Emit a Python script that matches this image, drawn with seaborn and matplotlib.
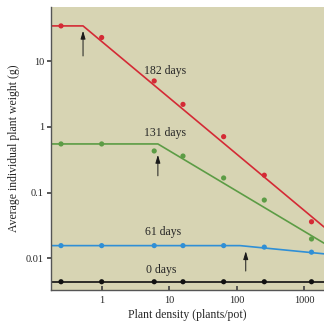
import numpy as np
import pandas as pd
import matplotlib
matplotlib.use("Agg")
import matplotlib.pyplot as plt
import seaborn as sns

# plant densities (plants/pot)
density = [0.25, 1, 6, 16, 64, 256, 1280]

# measured mean plant weight (g)
w_182 = [34.4, 22.9, 5.0, 2.2, 0.71, 0.184, 0.036]
w_131 = [0.55, 0.55, 0.43, 0.36, 0.167, 0.077, 0.0197]
w_61 = [0.0156, 0.0156, 0.0156, 0.0156, 0.0156, 0.0148, 0.0124]
w_0 = [0.0044, 0.0044, 0.0044, 0.0044, 0.0044, 0.0044, 0.0044]

# fitted lines (break points)
line_182_x = [0.177, 0.53, 1960]
line_182_y = [34.4, 34.4, 0.030]
line_131_x = [0.177, 6.8, 1960]
line_131_y = [0.55, 0.55, 0.017]
line_61_x = [0.177, 112, 1960]
line_61_y = [0.0156, 0.0156, 0.0117]
line_0_x = [0.177, 1960]
line_0_y = [0.0044, 0.0044]

labels = ["182 days", "131 days", "61 days", "0 days"]
colors = {"182 days": "#d42a35", "131 days": "#5c9c45",
          "61 days": "#2f8fd6", "0 days": "#111111"}

pts = pd.concat([
    pd.DataFrame({"density": density, "weight": w, "age": lab})
    for w, lab in zip([w_182, w_131, w_61, w_0], labels)
])
lines = pd.concat([
    pd.DataFrame({"density": lx, "weight": ly, "age": lab})
    for lx, ly, lab in zip([line_182_x, line_131_x, line_61_x, line_0_x],
                           [line_182_y, line_131_y, line_61_y, line_0_y], labels)
])

sns.set_theme(style="ticks")
plt.rcParams["font.family"] = ["Liberation Serif", "DejaVu Serif"]

fig = plt.figure(figsize=(3.24, 3.28), dpi=100)
ax = fig.add_axes([0.157, 0.116, 0.843, 0.863])
ax.set_facecolor("#d7d4b3")

sns.lineplot(data=lines, x="density", y="weight", hue="age", palette=colors,
             ax=ax, legend=False, linewidth=1.2, estimator=None, sort=False)
sns.scatterplot(data=pts, x="density", y="weight", hue="age", palette=colors,
                ax=ax, legend=False, s=14, edgecolor="none", zorder=3)

ax.set_xscale("log")
ax.set_yscale("log")
ax.set_xlim(0.177, 1960)
ax.set_ylim(0.0033, 67)
ax.set_xticks([1, 10, 100, 1000])
ax.set_xticklabels(["1", "10", "100", "1000"])
ax.set_yticks([0.01, 0.1, 1, 10])
ax.set_yticklabels(["0.01", "0.1", "1", "10"])
ax.minorticks_off()
ax.tick_params(axis="x", direction="in", length=3, labelsize=7.5, pad=4, color="#444444")
ax.tick_params(axis="y", direction="out", length=3, labelsize=7.5, pad=2, color="#444444")
for s in ["top", "right"]:
    ax.spines[s].set_visible(False)
for s in ["left", "bottom"]:
    ax.spines[s].set_color("#555555")
    ax.spines[s].set_linewidth(1.0)

ax.set_xlabel("Plant density (plants/pot)", fontsize=8.5, labelpad=3)
ax.set_ylabel("Average individual plant weight (g)", fontsize=8.5, labelpad=4)

# curve labels
ax.text(8.7, 7.1, "182 days", fontsize=8.5, ha="center", va="center")
ax.text(8.7, 0.81, "131 days", fontsize=8.5, ha="center", va="center")
ax.text(8.2, 0.025, "61 days", fontsize=8.5, ha="center", va="center")
ax.text(7.5, 0.0066, "0 days", fontsize=8.5, ha="center", va="center")

# arrows marking onset of density-dependent mortality
arrow_kw = dict(arrowstyle="-|>,head_length=0.4,head_width=0.12", color="#1a1a1a",
                lw=0.7, shrinkA=0, shrinkB=0)
ax.annotate("", xy=(0.53, 29), xytext=(0.53, 12), arrowprops=arrow_kw)
ax.annotate("", xy=(6.8, 0.375), xytext=(6.8, 0.18), arrowprops=arrow_kw)
ax.annotate("", xy=(136, 0.0128), xytext=(136, 0.0064), arrowprops=arrow_kw)

fig.savefig("out.png", dpi=100)
